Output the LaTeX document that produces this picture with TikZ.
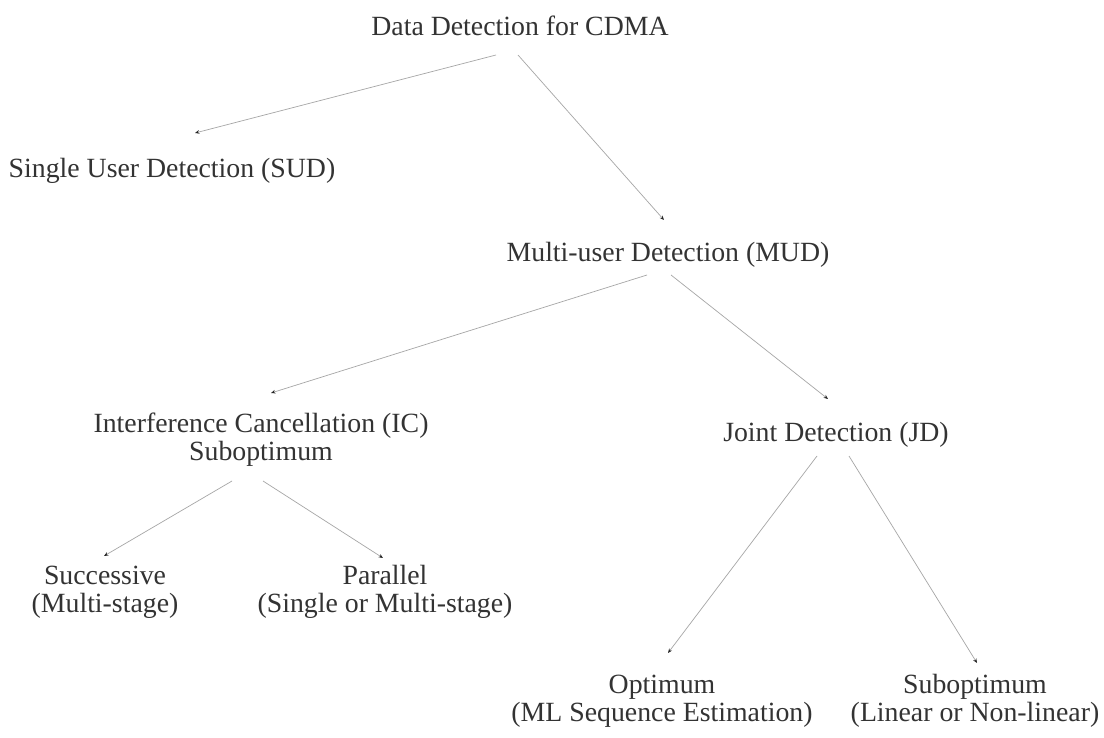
\documentclass[tikz,border=0pt]{standalone}
\usepackage{fontspec}
\setmainfont{Liberation Serif}
\usetikzlibrary{arrows.meta}
\begin{document}
\begin{tikzpicture}[x=0.5pt,y=-0.5pt,
  lbl/.style={anchor=base,inner sep=0pt,align=center,text=black!80,
    font=\fontsize{13.9}{14}\selectfont},
  conn/.style={draw=black!35,line width=0.35pt,
    -{Stealth[length=2.2pt,width=1.8pt,color=black!85]}}]
\useasboundingbox[fill=white] (0,0) rectangle (1104,738);

\node[lbl] (data) at (520,35.5) {Data Detection for CDMA};
\node[lbl] (sud) at (172,177) {Single User Detection (SUD)};
\node[lbl] (mud) at (668,261) {Multi-user Detection (MUD)};
\node[lbl] (ic) at (261,460) {Interference Cancellation (IC)\\Suboptimum};
\node[lbl] (jd) at (836,441) {Joint Detection (JD)};
\node[lbl] (succ) at (105,612) {Successive\\(Multi-stage)};
\node[lbl] (par) at (385,612) {Parallel\\(Single or Multi-stage)};
\node[lbl] (opt) at (662,721) {Optimum\\(ML Sequence Estimation)};
\node[lbl] (sub) at (975,721) {Suboptimum\\(Linear or Non-linear)};

\coordinate (d1) at (496,55);   \coordinate (sudT) at (195,133);
\coordinate (d2) at (518,55);   \coordinate (mudT) at (664,220);
\coordinate (m1) at (647,275);  \coordinate (icT) at (271,393);
\coordinate (m2) at (671,275);  \coordinate (jdT) at (828,399);
\coordinate (i1) at (232,481);  \coordinate (succT) at (104,556);
\coordinate (i2) at (263,481);  \coordinate (parT) at (383,558);
\coordinate (j1) at (817,456);  \coordinate (optT) at (668,653);
\coordinate (j2) at (849,456);  \coordinate (subT) at (977,663);

\draw[conn] (d1) -- (sudT);
\draw[conn] (d2) -- (mudT);
\draw[conn] (m1) -- (icT);
\draw[conn] (m2) -- (jdT);
\draw[conn] (i1) -- (succT);
\draw[conn] (i2) -- (parT);
\draw[conn] (j1) -- (optT);
\draw[conn] (j2) -- (subT);
\end{tikzpicture}
\end{document}
